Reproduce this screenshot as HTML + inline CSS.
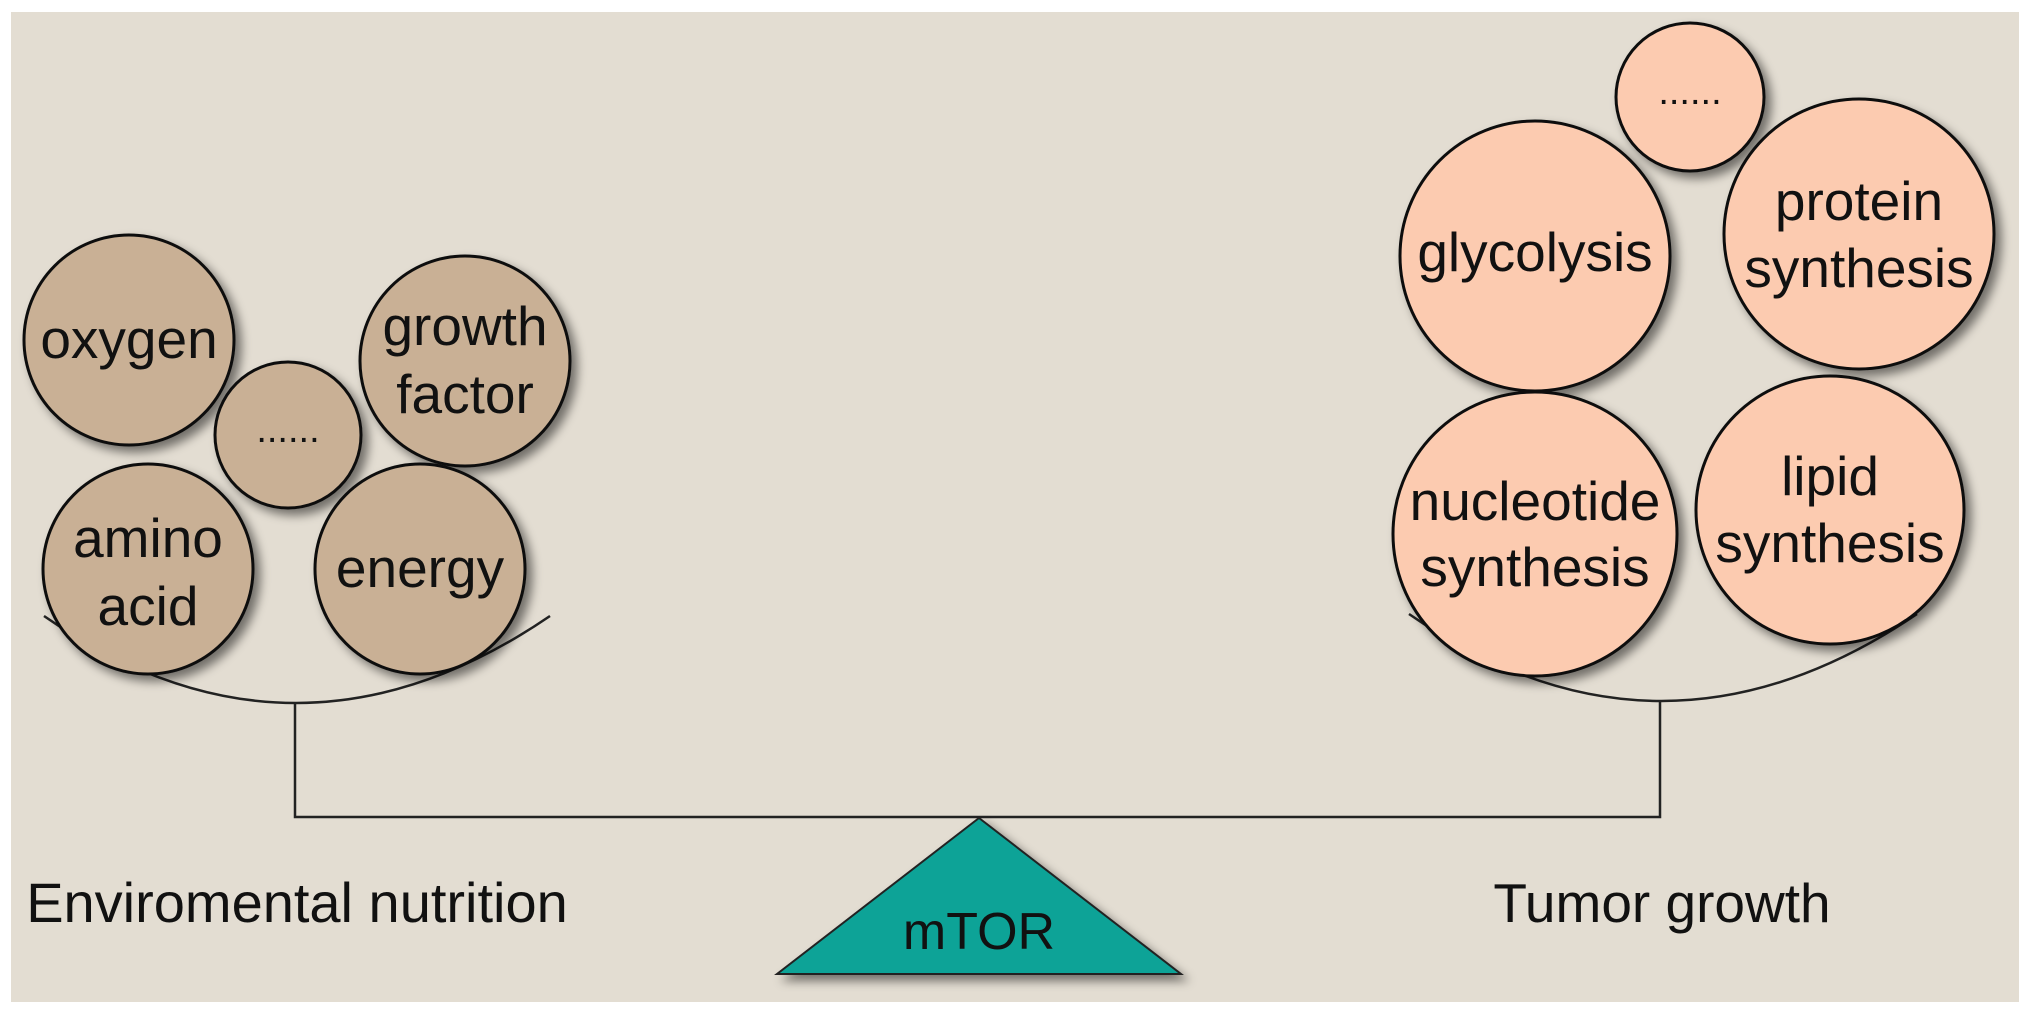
<!DOCTYPE html>
<html><head><meta charset="utf-8"><style>
html,body{margin:0;padding:0;background:#fff;}
svg{display:block;}
text{font-family:"Liberation Sans",Arial,sans-serif;fill:#111;}
</style></head><body>
<svg width="2031" height="1013" viewBox="0 0 2031 1013" xmlns="http://www.w3.org/2000/svg">
<defs>
<filter id="sh" x="-20%" y="-20%" width="140%" height="140%">
<feGaussianBlur in="SourceAlpha" stdDeviation="5"/>
<feOffset dx="6" dy="6" result="b"/>
<feComponentTransfer><feFuncA type="linear" slope="0.5"/></feComponentTransfer>
<feMerge><feMergeNode/><feMergeNode in="SourceGraphic"/></feMerge>
</filter>
</defs>
<rect x="11" y="12" width="2008" height="990" fill="#e3ddd2"/>
<g fill="none" stroke="#222" stroke-width="2.5">
<path d="M44,616 Q295,790 550,616"/>
<path d="M1409,614 Q1660,788 1917,614"/>
<path d="M295,703 V817 H1660 V701"/>
</g>
<g filter="url(#sh)" stroke="#111" stroke-width="3" fill="#c9b095">
<circle cx="129" cy="340" r="105"/>
<circle cx="288" cy="435" r="73"/>
<circle cx="465" cy="361" r="105"/>
<circle cx="148" cy="569" r="105"/>
<circle cx="420" cy="569" r="105"/>
</g>
<g filter="url(#sh)" stroke="#111" stroke-width="3" fill="#fccbb0">
<circle cx="1690" cy="97" r="74"/>
<circle cx="1535" cy="256" r="135"/>
<circle cx="1859" cy="234" r="135"/>
<circle cx="1535" cy="534" r="142"/>
<circle cx="1830" cy="510" r="134"/>
</g>
<g font-size="55" text-anchor="middle">
<text x="129" y="358">oxygen</text>
<text x="288" y="442" font-size="38">......</text>
<text x="465" y="345">growth</text>
<text x="465" y="413">factor</text>
<text x="148" y="557">amino</text>
<text x="148" y="625">acid</text>
<text x="420" y="587">energy</text>
<text x="1690" y="104" font-size="38">......</text>
<text x="1535" y="271">glycolysis</text>
<text x="1859" y="220">protein</text>
<text x="1859" y="287">synthesis</text>
<text x="1535" y="520">nucleotide</text>
<text x="1535" y="586">synthesis</text>
<text x="1830" y="495">lipid</text>
<text x="1830" y="562">synthesis</text>
<text x="297" y="922" font-size="56">Enviromental nutrition</text>
<text x="1662" y="922" font-size="55">Tumor growth</text>
</g>
<polygon points="979,818 777,974 1181,974" fill="#0fa397" stroke="#222" stroke-width="2" filter="url(#sh)"/>
<text x="979" y="949" font-size="52" text-anchor="middle">mTOR</text>
</svg>
</body></html>
